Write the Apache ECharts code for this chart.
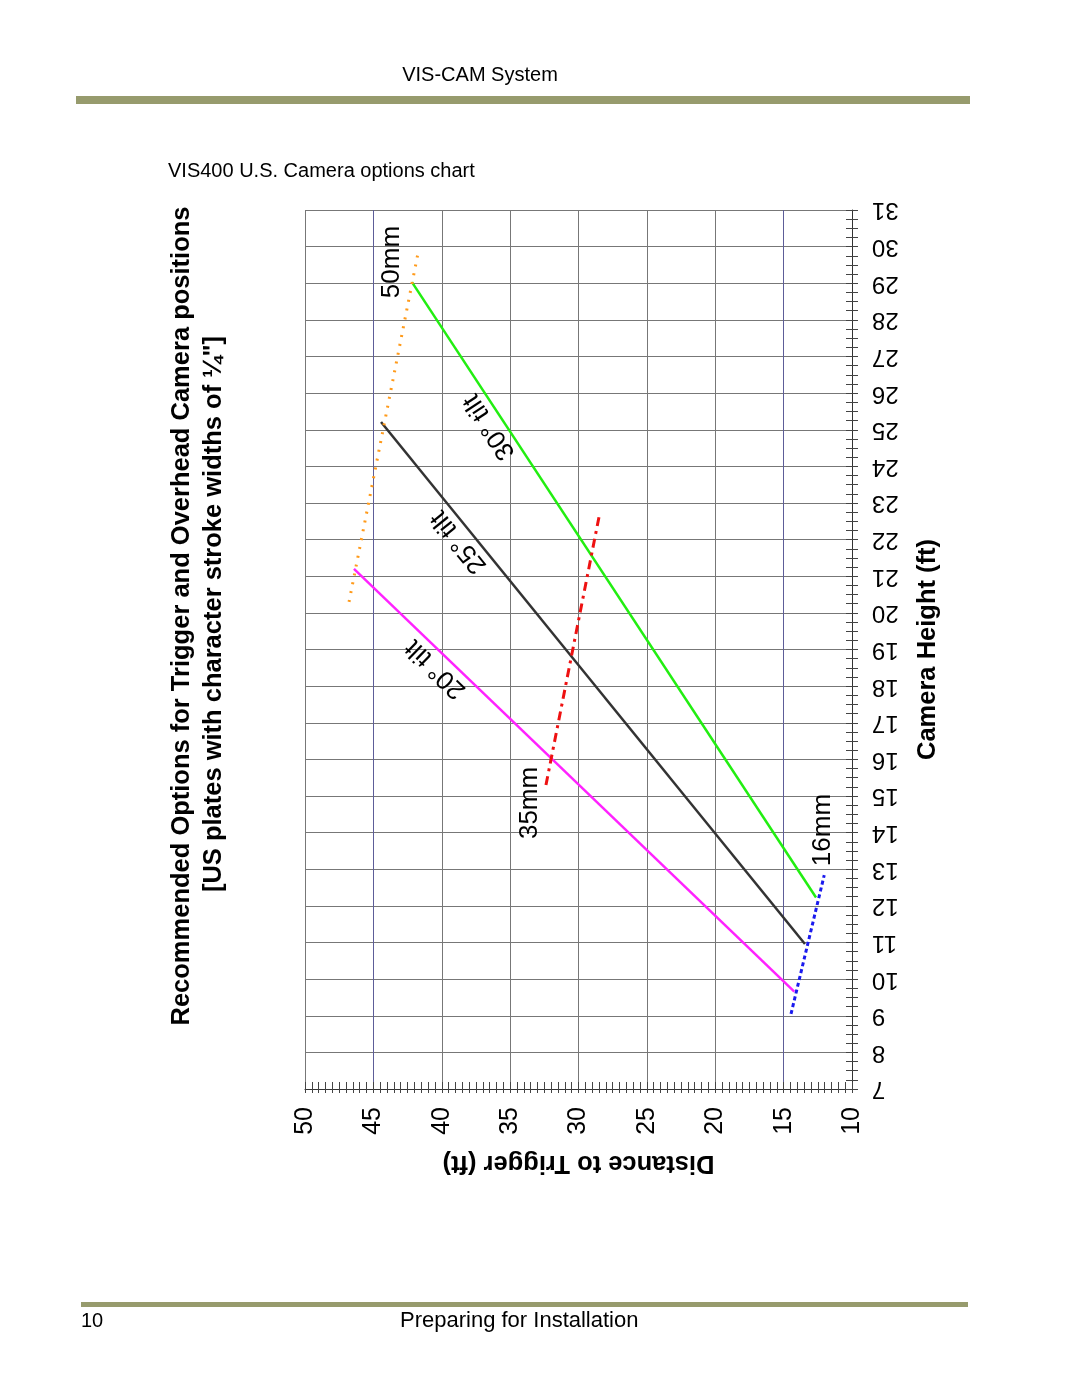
<!DOCTYPE html>
<html><head><meta charset="utf-8">
<script src="https://cdn.jsdelivr.net/npm/echarts@6/dist/echarts.min.js"></script>
<style>html,body{margin:0;padding:0;background:#fff}#c{width:1080px;height:1397px}</style>
</head><body><div id="c"></div>
<script>
// Distance to Trigger (ft) on the horizontal axis, Camera Height (ft) on the vertical axis
const distanceRange = [10, 50];
const heightRange = [7, 31];
// each series: [distance, height]
const tilt30 = [[42.18, 29.03], [12.63, 12.23]];
const tilt25 = [[44.44, 25.21], [13.44, 10.96]];
const tilt20 = [[46.42, 21.2], [14.22, 9.66]];
const lens50mm = [[46.78, 20.3], [41.69, 29.91]];
const lens35mm = [[32.38, 15.3], [28.5, 22.62]];
const lens16mm = [[14.46, 9.05], [12.03, 12.84]];
// label texts and anchor (distance, height), rotation in degrees
const labelTexts = ['50mm', '30° tilt', '25° tilt', '20° tilt', '35mm', '16mm'];
const labelAnchors = [[43.64, 29.58], [36.5, 25.08], [38.75, 21.94], [40.45, 18.47], [33.55, 14.81], [12.12, 14.07]];
const labelRot = [90, 123.4, 129, 136, 90, 90];

const FONT = '"Liberation Sans", Arial, sans-serif';
const chart = echarts.init(document.getElementById('c'), null, {renderer: 'canvas'});

function lineSeries(name, data, color, width, type) {
  return {
    name, type: 'line', data, xAxisIndex: 0, yAxisIndex: 0,
    symbol: 'none', silent: true, animation: false,
    lineStyle: {color, width, type}
  };
}
const G = '#777777', B = '#5d5d98';

const option = {
  animation: false,
  backgroundColor: '#fff',
  grid: {left: 305, right: 228, top: 210, bottom: 308, containLabel: false},
  xAxis: [{
    type: 'value', min: distanceRange[0], max: distanceRange[1], interval: 5,
    inverse: true, position: 'bottom',
    axisLine: {show: true, onZero: false, lineStyle: {color: '#333', width: 1}},
    axisTick: {show: true, inside: true, length: 7, lineStyle: {color: '#444'}},
    minorTick: {show: true, splitNumber: 10, length: 7, lineStyle: {color: '#444'}},
    splitLine: {show: true, lineStyle: {color: [G, B, G, G, G, G, G, B, G], width: 1}},
    axisLabel: {rotate: 90, margin: 18, fontSize: 25, color: '#000', fontFamily: FONT},
    name: 'Distance to Trigger (ft)', nameLocation: 'middle', nameRotate: 180, nameGap: 61,
    nameTextStyle: {fontSize: 25.5, fontWeight: 'bold', color: '#000', fontFamily: FONT}
  }, {
    type: 'value', min: distanceRange[0], max: distanceRange[1], interval: 5,
    inverse: true, position: 'bottom',
    axisLine: {show: false, onZero: false},
    axisTick: {show: true, inside: false, length: 4, lineStyle: {color: '#444'}},
    minorTick: {show: true, splitNumber: 10, length: 4, lineStyle: {color: '#444'}},
    splitLine: {show: false}, axisLabel: {show: false}
  }],
  yAxis: [{
    type: 'value', min: heightRange[0], max: heightRange[1], interval: 1,
    position: 'right',
    axisLine: {show: true, onZero: false, lineStyle: {color: '#333', width: 1}},
    axisTick: {show: true, inside: true, length: 6, lineStyle: {color: '#444'}},
    minorTick: {show: true, splitNumber: 4, length: 6, lineStyle: {color: '#444'}},
    splitLine: {show: true, lineStyle: {color: G, width: 1}},
    axisLabel: {rotate: 180, margin: 20, fontSize: 24, color: '#000', fontFamily: FONT},
    name: 'Camera Height (ft)', nameLocation: 'middle', nameRotate: 90, nameGap: 63,
    nameTextStyle: {fontSize: 25.5, fontWeight: 'bold', color: '#000', fontFamily: FONT}
  }, {
    type: 'value', min: heightRange[0], max: heightRange[1], interval: 1,
    position: 'right',
    axisLine: {show: false, onZero: false},
    axisTick: {show: true, inside: false, length: 6, lineStyle: {color: '#444'}},
    minorTick: {show: true, splitNumber: 4, length: 6, lineStyle: {color: '#444'}},
    splitLine: {show: false}, axisLabel: {show: false}
  }],
  series: [
    lineSeries('30° tilt', tilt30, '#22ee11', 2.5, 'solid'),
    lineSeries('25° tilt', tilt25, '#333333', 2.5, 'solid'),
    lineSeries('20° tilt', tilt20, '#ff22ff', 2.5, 'solid'),
    lineSeries('50mm', lens50mm, '#ff9a1a', 3, [2, 7]),
    lineSeries('35mm', lens35mm, '#ee1111', 3, [9, 5, 3, 5]),
    lineSeries('16mm', lens16mm, '#1a1aee', 3, [4, 3])
  ]
};
chart.setOption(option);

const bar = '#979b6d';
const graphics = [
  {type: 'rect', shape: {x: 76, y: 96, width: 894, height: 8}, style: {fill: bar}},
  {type: 'rect', shape: {x: 81, y: 1302, width: 887, height: 5}, style: {fill: bar}},
  {type: 'text', x: 480, y: 75, style: {text: 'VIS-CAM System', font: '20px ' + FONT, fill: '#000', textAlign: 'center', textVerticalAlign: 'middle'}},
  {type: 'text', x: 168, y: 171, style: {text: 'VIS400 U.S. Camera options chart', font: '20px ' + FONT, fill: '#000', textAlign: 'left', textVerticalAlign: 'middle'}},
  {type: 'text', x: 81, y: 1321, style: {text: '10', font: '20px ' + FONT, fill: '#000', textAlign: 'left', textVerticalAlign: 'middle'}},
  {type: 'text', x: 400, y: 1321, style: {text: 'Preparing for Installation', font: '22px ' + FONT, fill: '#000', textAlign: 'left', textVerticalAlign: 'middle'}},
  {type: 'text', x: 182, y: 616, rotation: Math.PI / 2, style: {text: 'Recommended Options for Trigger and Overhead Camera positions', font: 'bold 25.5px ' + FONT, fill: '#000', textAlign: 'center', textVerticalAlign: 'middle'}},
  {type: 'text', x: 214, y: 614, rotation: Math.PI / 2, style: {text: '[US plates with character stroke widths of \u00BC"]', font: 'bold 25.5px ' + FONT, fill: '#000', textAlign: 'center', textVerticalAlign: 'middle'}}
];
labelTexts.forEach((t, i) => {
  const p = chart.convertToPixel({xAxisIndex: 0, yAxisIndex: 0}, labelAnchors[i]);
  graphics.push({type: 'text', x: p[0], y: p[1], rotation: labelRot[i] * Math.PI / 180,
    style: {text: t, font: '26px ' + FONT, fill: '#000', textAlign: 'center', textVerticalAlign: 'middle'}});
});
chart.setOption({graphic: graphics});
</script></body></html>
